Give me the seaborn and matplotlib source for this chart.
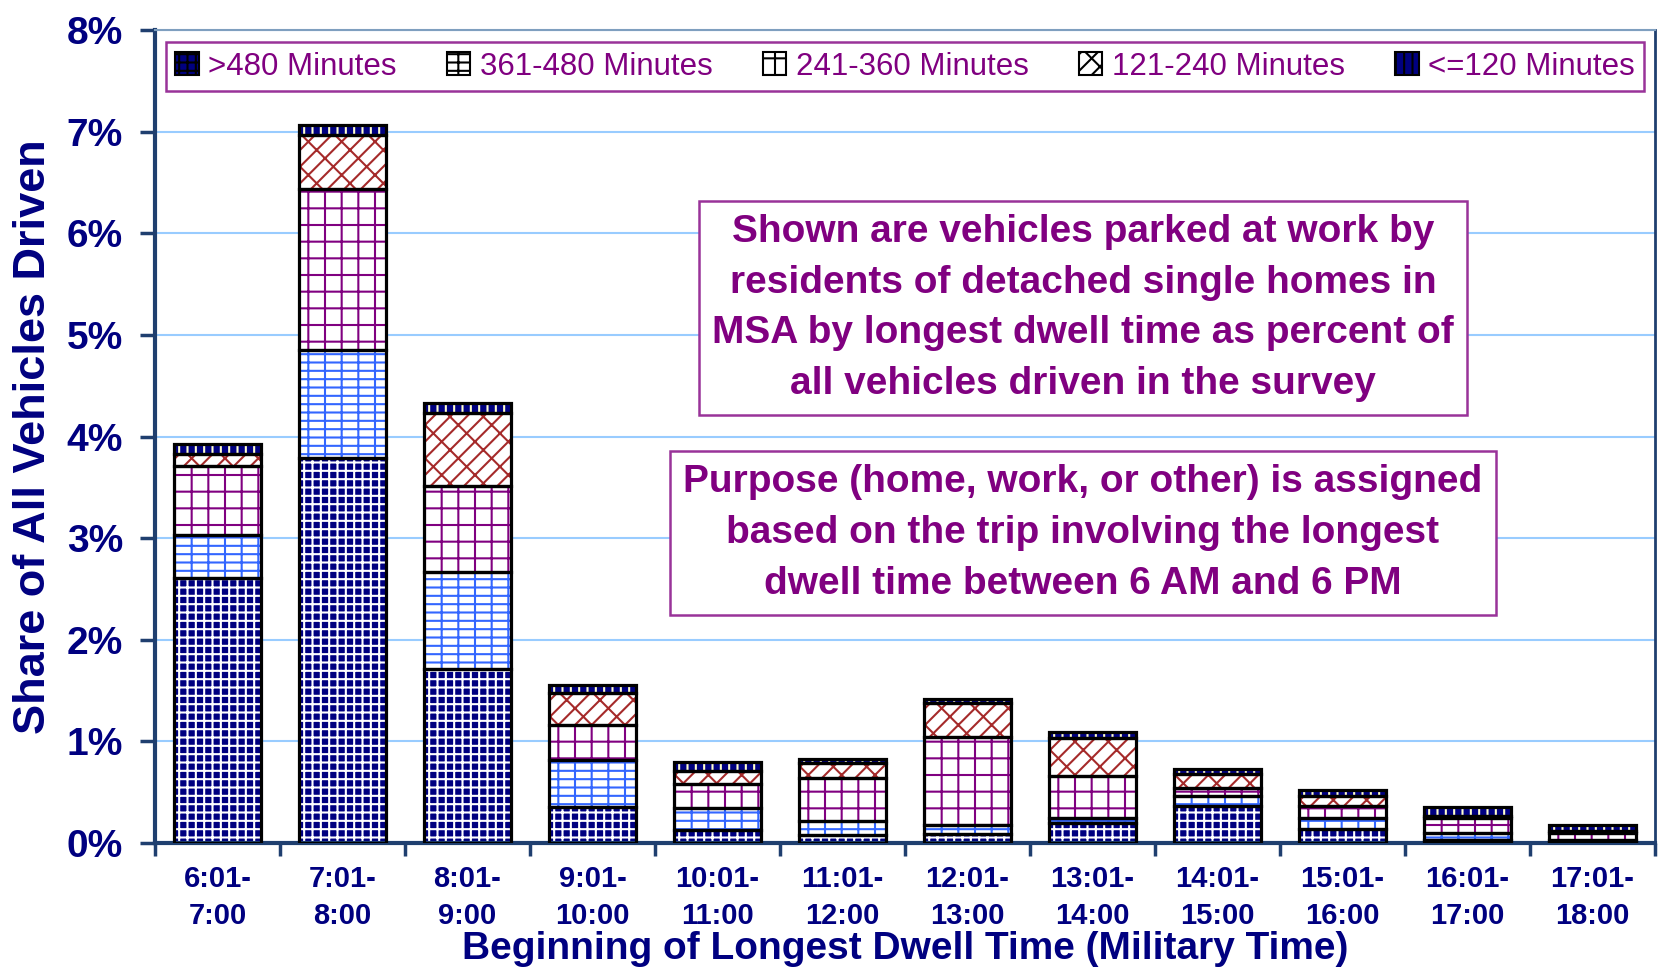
import matplotlib
matplotlib.use('Agg')
import matplotlib.pyplot as plt
import matplotlib.patches as mpatches
import numpy as np
import pandas as pd
import seaborn as sns

# 时段（横轴类别）
periods = ['6:01-\n7:00', '7:01-\n8:00', '8:01-\n9:00', '9:01-\n10:00',
           '10:01-\n11:00', '11:01-\n12:00', '12:01-\n13:00', '13:01-\n14:00',
           '14:01-\n15:00', '15:01-\n16:00', '16:01-\n17:00', '17:01-\n18:00']

# 各停留时长的占比（%），自下而上堆叠
over_480 = [2.61, 3.79, 1.71, 0.35, 0.13, 0.08, 0.09, 0.20, 0.36, 0.14, 0.03, 0.01]
m361_480 = [0.42, 1.06, 0.96, 0.47, 0.21, 0.14, 0.09, 0.05, 0.10, 0.11, 0.07, 0.02]
m241_360 = [0.68, 1.59, 0.84, 0.34, 0.24, 0.42, 0.86, 0.41, 0.08, 0.11, 0.15, 0.07]
m121_240 = [0.12, 0.53, 0.72, 0.32, 0.13, 0.15, 0.34, 0.37, 0.14, 0.10, 0.02, 0.02]
upto_120 = [0.10, 0.10, 0.10, 0.08, 0.09, 0.04, 0.04, 0.06, 0.05, 0.06, 0.08, 0.06]

layer_names = ['>480 Minutes', '361-480 Minutes', '241-360 Minutes',
               '121-240 Minutes', '<=120 Minutes']
layer_values = [over_480, m361_480, m241_360, m121_240, upto_120]

# 填充样式: (底色, 花纹, 花纹颜色)
layer_styles = [('#000080', '++', 'white'),
                ('white', '+-', '#3366FF'),
                ('white', '+', '#800080'),
                ('white', '/x', '#A52A2A'),
                ('#000080', '||', '#FFFFCC')]

navy = '#000080'
purple = '#800080'

sns.set_style('white')
plt.rcParams['font.family'] = ['Liberation Sans', 'DejaVu Sans']
plt.rcParams['hatch.linewidth'] = 1.5

fig = plt.figure(figsize=(16.61, 9.74), dpi=100)
ax = fig.add_axes([0.0933, 0.1345, 0.9031, 0.8345])

df = pd.DataFrame({'period': periods})
bottom = np.zeros(len(periods))
for name, vals, (face, hatch, hcol) in zip(layer_names, layer_values, layer_styles):
    df['val'] = vals
    # 花纹层
    sns.barplot(data=df, x='period', y='val', order=periods, bottom=bottom,
                width=0.7, color=face, saturation=1, facecolor=face,
                edgecolor=hcol, hatch=hatch, linewidth=0, errorbar=None,
                ax=ax, zorder=2)
    # 黑色边框
    sns.barplot(data=df, x='period', y='val', order=periods, bottom=bottom,
                width=0.7, color='black', saturation=1, fill=False,
                linewidth=2.3, errorbar=None, ax=ax, zorder=3)
    bottom = bottom + np.array(vals)

ax.set_xlim(-0.5, len(periods) - 0.5)
ax.set_ylim(0, 8)
ax.set_yticks(range(0, 9))
ax.set_yticklabels([f'{i}%' for i in range(0, 9)])
ax.yaxis.grid(True, color='#99CCFF', linewidth=1.5, zorder=0)
ax.set_axisbelow(True)

# x 轴刻度线放在类别之间
ax.set_xticks(np.arange(-0.5, len(periods)), minor=True)
ax.tick_params(axis='x', which='minor', length=9, width=2.5, color='#1F3F6F',
               direction='out', bottom=True)
ax.tick_params(axis='x', which='major', length=0, pad=16, labelsize=21,
               labelcolor=navy)
ax.tick_params(axis='y', length=11, width=2.5, color='#1F3F6F', pad=12,
               labelsize=28, labelcolor=navy, left=True)
for lab in ax.get_xticklabels():
    lab.set_fontweight('bold')
    lab.set_linespacing(1.38)
for lab in ax.get_yticklabels():
    lab.set_fontweight('bold')

for side in ['left', 'bottom', 'right']:
    ax.spines[side].set_color('#1F3F6F')
    ax.spines[side].set_linewidth(3)
ax.spines['right'].set_linewidth(2)
ax.spines['top'].set_color('#7F9FBF')
ax.spines['top'].set_linewidth(1.5)

ax.set_xlabel('Beginning of Longest Dwell Time (Military Time)', fontsize=28,
              fontweight='bold', color=navy)
ax.xaxis.set_label_coords(0.5, -0.108)
ax.set_ylabel('Share of All Vehicles Driven', fontsize=32.5, fontweight='bold',
              color=navy, labelpad=9)

# 图例
handles = [mpatches.Patch(facecolor=face, hatch=hatch, edgecolor='black',
                          linewidth=1.5)
           for face, hatch, hcol in layer_styles]
leg = ax.legend(handles, layer_names, ncol=5, loc='upper left',
                bbox_to_anchor=(0.003, 0.993, 0.994, 0.0), mode='expand',
                fontsize=22.5, frameon=True, fancybox=False, framealpha=1,
                edgecolor='#993399', handlelength=0.75, handleheight=0.75,
                handletextpad=0.3, borderpad=0.3, borderaxespad=0.2)
leg.get_frame().set_linewidth(1.8)
for t in leg.get_texts():
    t.set_color(purple)

# 说明文字框
box_kw = dict(boxstyle='square,pad=0.35', facecolor='white',
              edgecolor='#993399', linewidth=1.8)
fig.text(1083 / 1661, 1 - 308 / 974,
         'Shown are vehicles parked at work by\n'
         'residents of detached single homes in\n'
         'MSA by longest dwell time as percent of\n'
         'all vehicles driven in the survey',
         ha='center', va='center', multialignment='center', fontsize=28,
         fontweight='bold', color=purple, linespacing=1.52, bbox=box_kw)
fig.text(1083 / 1661, 1 - 533 / 974,
         'Purpose (home, work, or other) is assigned\n'
         'based on the trip involving the longest\n'
         'dwell time between 6 AM and 6 PM',
         ha='center', va='center', multialignment='center', fontsize=28,
         fontweight='bold', color=purple, linespacing=1.52, bbox=box_kw)

fig.savefig('out.png', dpi=100)
